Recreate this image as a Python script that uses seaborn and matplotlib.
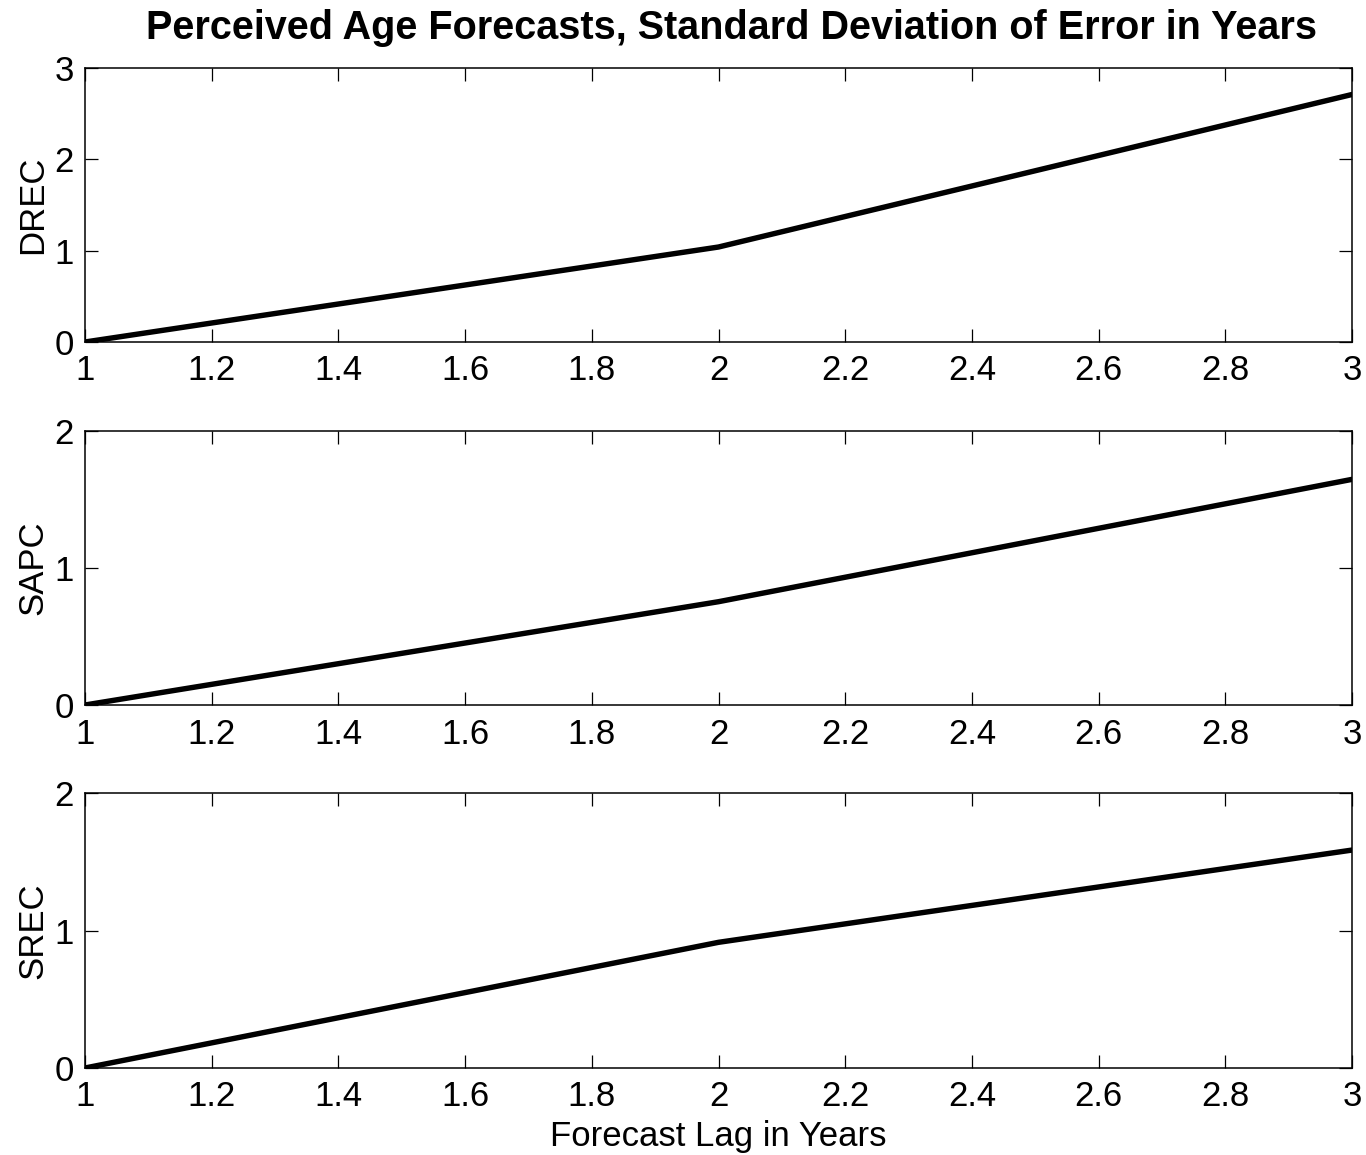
import matplotlib
matplotlib.use("Agg")
import matplotlib.pyplot as plt
import seaborn as sns
import pandas as pd

lags = [1, 2, 3]
drec = [0.0, 1.04, 2.71]
sapc = [0.0, 0.754, 1.647]
srec = [0.0, 0.914, 1.585]
series_names = ["DREC", "SAPC", "SREC"]
ylims = [3, 2, 2]
xticks = [1, 1.2, 1.4, 1.6, 1.8, 2, 2.2, 2.4, 2.6, 2.8, 3]
xticklabels = ["1", "1.2", "1.4", "1.6", "1.8", "2", "2.2", "2.4", "2.6", "2.8", "3"]
title = "Perceived Age Forecasts, Standard Deviation of Error in Years"
xlabel = "Forecast Lag in Years"

sns.set_style("ticks")
plt.rcParams['font.family'] = ['Liberation Sans', 'DejaVu Sans']
plt.rcParams['text.color'] = 'black'
plt.rcParams['axes.labelcolor'] = 'black'

fig = plt.figure(figsize=(13.66, 11.55), dpi=100)
W, H = 1366, 1155
boxes = [(68, 342), (431, 705), (793, 1068)]
left, right = 85, 1352
data = [drec, sapc, srec]

for i, (name, vals, (t, b), ym) in enumerate(zip(series_names, data, boxes, ylims)):
    ax = fig.add_axes([left / W, 1 - b / H, (right - left) / W, (b - t) / H])
    df = pd.DataFrame({"lag": lags, "val": vals})
    sns.lineplot(data=df, x="lag", y="val", ax=ax, color="black", linewidth=3.9)
    ax.set_xlim(1, 3)
    ax.set_ylim(0, ym)
    ax.set_xticks(xticks)
    ax.set_xticklabels(xticklabels)
    ax.set_yticks(list(range(ym + 1)))
    ax.tick_params(direction="in", length=9.5, width=0.9, top=True, right=True,
                   labelsize=25, colors="black")
    ax.tick_params(axis="x", pad=9)
    ax.tick_params(axis="y", pad=8)
    for s in ax.spines.values():
        s.set_visible(True)
        s.set_linewidth(1.1)
        s.set_color("black")
    ax.set_ylabel(name, fontsize=25, labelpad=4, color="black")
    ax.set_xlabel("")
    if i == 2:
        ax.set_xlabel(xlabel, fontsize=25, labelpad=5, color="black")

fig.text(731 / W, 1 - 28 / H, title, ha="center", va="center",
         fontsize=28.5, fontweight="bold", color="black")

fig.savefig("out.png", dpi=100, facecolor="white")
